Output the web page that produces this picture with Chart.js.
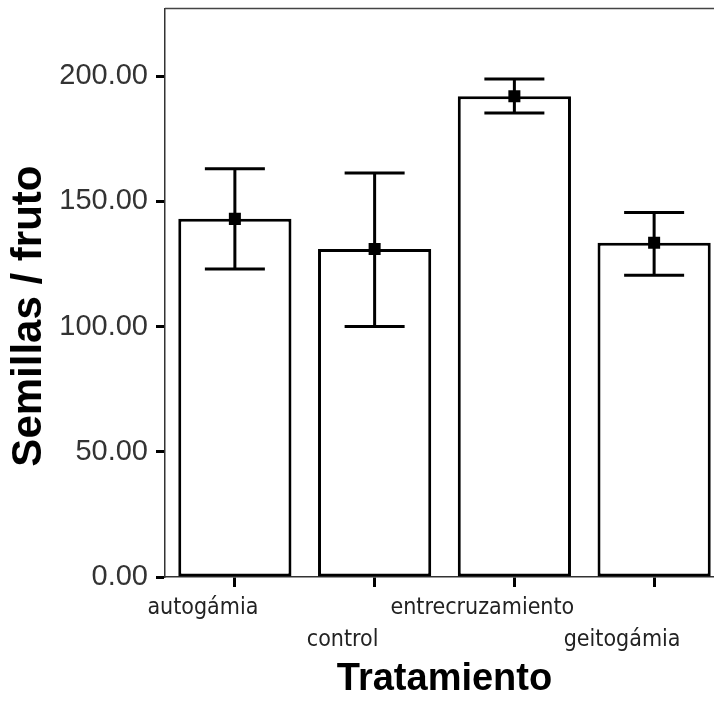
<!DOCTYPE html>
<html>
<head>
<meta charset="utf-8">
<script src="https://cdn.jsdelivr.net/npm/chart.js@4"></script>
<style>
  html, body { margin: 0; padding: 0; background: #fff; overflow: hidden; }
  #wrap { position: absolute; left: 0; top: 0; width: 740px; height: 702px; }
</style>
</head>
<body>
<div id="wrap"><canvas id="chart"></canvas></div>
<script>
// categorías y valores
const categories = ["autogámia", "control", "entrecruzamiento", "geitogámia"];
const means = [143, 131, 192, 133.5];
const errHigh = [163, 161.3, 198.8, 145.5];
const errLow = [123, 100, 185.3, 120.5];
const yTicks = [0, 50, 100, 150, 200];

// etiquetas escalonadas como en el original (fila 1 / fila 2)
const xLabels = categories.map((c, i) => (i % 2 === 0 ? [c, ""] : ["", c]));

const errorBars = {
  id: "errorBars",
  afterDatasetsDraw(chart) {
    const { ctx, scales: { x, y } } = chart;
    ctx.save();
    ctx.strokeStyle = "#000";
    ctx.lineWidth = 3;
    for (let i = 0; i < categories.length; i++) {
      const px = x.getPixelForValue(i);
      const top = y.getPixelForValue(errHigh[i]);
      const bot = y.getPixelForValue(errLow[i]);
      ctx.beginPath();
      ctx.moveTo(px, top); ctx.lineTo(px, bot);
      ctx.moveTo(px - 30, top); ctx.lineTo(px + 30, top);
      ctx.moveTo(px - 30, bot); ctx.lineTo(px + 30, bot);
      ctx.stroke();
    }
    ctx.restore();
  }
};

// borde superior del área de trazado
const topFrame = {
  id: "topFrame",
  afterDraw(chart) {
    const { ctx, chartArea: a } = chart;
    ctx.save();
    ctx.strokeStyle = "#444";
    ctx.lineWidth = 1.5;
    ctx.beginPath();
    ctx.moveTo(a.left, a.top);
    ctx.lineTo(a.right, a.top);
    ctx.stroke();
    ctx.restore();
  }
};

new Chart(document.getElementById("chart"), {
  type: "bar",
  data: {
    labels: xLabels,
    datasets: [
      {
        type: "line",
        data: means,
        showLine: false,
        pointStyle: "rect",
        pointRadius: 8.5,
        pointBackgroundColor: "#000",
        pointBorderWidth: 0,
        order: 1,
      },
      {
        data: means,
        backgroundColor: "#fff",
        borderColor: "#000",
        borderWidth: 3,
        borderSkipped: false,
        barPercentage: 0.81,
        categoryPercentage: 1,
        order: 2,
      },
    ],
  },
  options: {
    responsive: true,
    maintainAspectRatio: false,
    animation: false,
    layout: { padding: { top: 8, right: 16, left: 0, bottom: 0 } },
    plugins: { legend: { display: false }, tooltip: { enabled: false } },
    scales: {
      x: {
        grid: { offset: false, drawOnChartArea: false, tickLength: 10, tickWidth: 3, tickColor: "#000" },
        border: { display: true, color: "#333", width: 1.5 },
        ticks: {
          color: "#222",
          padding: 6,
          maxRotation: 0,
          autoSkip: false,
          labelOffset: -32,
          font: { family: "'DejaVu Sans Condensed', 'DejaVu Sans', sans-serif", size: 23, lineHeight: 1.35 },
        },
        title: {
          display: true,
          text: "Tratamiento",
          color: "#000",
          padding: { top: 0, bottom: 0 },
          font: { family: "'Liberation Sans', Arial, sans-serif", size: 38, weight: "bold" },
        },
        afterFit(s) { s.height = 125; },
      },
      y: {
        min: 0,
        max: 227,
        afterBuildTicks(s) { s.ticks = yTicks.map(v => ({ value: v })); },
        grid: { drawOnChartArea: false, tickLength: 9, tickWidth: 3, tickColor: "#000" },
        border: { display: true, color: "#333", width: 1.5 },
        ticks: {
          color: "#333",
          padding: 8,
          callback: v => Number(v).toFixed(2),
          font: { family: "'Liberation Sans', Arial, sans-serif", size: 29 },
        },
        title: {
          display: true,
          text: "Semillas / fruto    ",
          color: "#000",
          padding: { top: 4, bottom: 0 },
          font: { family: "'Liberation Sans', Arial, sans-serif", size: 42, weight: "bold" },
        },
        afterFit(s) { s.width = 165; s.paddingTop = 0; s.paddingBottom = 0; },
      },
    },
  },
  plugins: [errorBars, topFrame],
});
</script>
</body>
</html>
